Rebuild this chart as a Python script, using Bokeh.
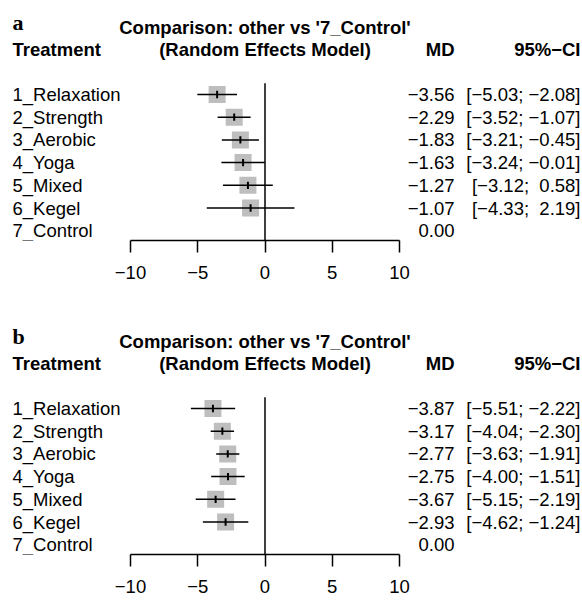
from bokeh.plotting import figure
from bokeh.layouts import column
from bokeh.models import Range1d, FixedTicker, ColumnDataSource
from bokeh.embed import file_html
from bokeh.resources import INLINE
from bokeh.core.properties import value

# ---- data ----
treatments = ["1_Relaxation", "2_Strength", "3_Aerobic", "4_Yoga",
              "5_Mixed", "6_Kegel", "7_Control"]
md_a = [-3.56, -2.29, -1.83, -1.63, -1.27, -1.07, 0.00]
lo_a = [-5.03, -3.52, -3.21, -3.24, -3.12, -4.33]
hi_a = [-2.08, -1.07, -0.45, -0.01, 0.58, 2.19]
md_b = [-3.87, -3.17, -2.77, -2.75, -3.67, -2.93, 0.00]
lo_b = [-5.51, -4.04, -3.63, -4.00, -5.15, -4.62]
hi_b = [-2.22, -2.30, -1.91, -1.51, -2.19, -1.24]
ticks = [-10, -5, 0, 5, 10]
reference = "7_Control"

# ---- layout constants ----
W = 582
H_TOTAL = 603
H_A = 314
PX_PER_UNIT = 13.45
X_START = -10 - 130 / PX_PER_UNIT
X_END = X_START + W / PX_PER_UNIT
ROW_PX = 22.7
Y_TOP = 1 - 94 / ROW_PX
Y_AXIS = 1 + (240 - 94) / ROW_PX
FRAME_H = 240


def xpos(px):
    return X_START + px / PX_PER_UNIT


def ypos(px):
    return 1 + (px - 94) / ROW_PX


LEFT_X = xpos(12)
MD_X = xpos(454)
CI_X = xpos(580)

SANS = value("Liberation Sans")
FS = "18.5px"


def fmt(v):
    return f"{v:.2f}".replace("-", "\u2212")


def fmt_ci(lo, hi):
    up = fmt(hi)
    if hi >= 0:
        up = "\u00a0" + up
    return f"[{fmt(lo)};\u00a0{up}]"


def make_panel(letter, md, lo, hi, height, bottom):
    p = figure(width=W, height=height, output_backend="svg", toolbar_location=None,
               x_range=Range1d(X_START, X_END), y_range=Range1d(Y_AXIS, Y_TOP),
               min_border_left=0, min_border_right=0, min_border_top=0,
               min_border_bottom=bottom, y_axis_location=None)
    p.outline_line_color = None
    p.grid.visible = False
    p.background_fill_color = "white"
    p.border_fill_color = "white"

    n = len(lo)
    rows = list(range(1, len(md) + 1))
    rows_ci = rows[:n]

    # zero reference line
    p.segment(x0=[0], y0=[0.5], x1=[0], y1=[Y_AXIS], line_color="black", line_width=1.5)

    src = ColumnDataSource(dict(y=rows_ci, md=md[:n], lo=lo, hi=hi,
                                ty0=[r - 0.16 for r in rows_ci],
                                ty1=[r + 0.16 for r in rows_ci]))
    p.scatter(x="md", y="y", source=src, marker="square", size=17,
              fill_color="#bebebe", line_color=None)
    p.segment(x0="lo", y0="y", x1="hi", y1="y", source=src,
              line_color="black", line_width=1.5)
    p.segment(x0="md", y0="ty0", x1="md", y1="ty1", source=src,
              line_color="black", line_width=2)

    # left labels
    p.text(x=[LEFT_X] * len(treatments), y=rows, text=treatments,
           text_font=SANS, text_font_size=FS, text_baseline="middle",
           text_align="left", text_color="black")
    # MD column
    p.text(x=[MD_X] * len(md), y=rows, text=[fmt(v) for v in md],
           text_font=SANS, text_font_size=FS, text_baseline="middle",
           text_align="right", text_color="black")
    # CI column
    p.text(x=[CI_X] * n, y=rows_ci, text=[fmt_ci(a, b) for a, b in zip(lo, hi)],
           text_font=SANS, text_font_size=FS, text_baseline="middle",
           text_align="right", text_color="black")

    # headers
    h1, h2 = ypos(27), ypos(49)
    p.text(x=[0, 0], y=[h1, h2],
           text=[f"Comparison: other vs '{reference}'", "(Random Effects Model)"],
           text_font=SANS, text_font_size=FS, text_font_style="bold",
           text_baseline="middle", text_align="center", text_color="black")
    p.text(x=[LEFT_X], y=[h2], text=["Treatment"], text_font=SANS,
           text_font_size=FS, text_font_style="bold", text_baseline="middle",
           text_align="left", text_color="black")
    p.text(x=[MD_X, CI_X], y=[h2, h2], text=["MD", "95%\u2212CI"],
           text_font=SANS, text_font_size=FS, text_font_style="bold",
           text_baseline="middle", text_align="right", text_color="black")
    p.text(x=[LEFT_X], y=[ypos(21.5)], text=[letter], text_font=value("Liberation Serif"),
           text_font_size="22px", text_font_style="bold", text_baseline="alphabetic",
           text_align="left", text_color="black")

    ax = p.xaxis[0]
    ax.ticker = FixedTicker(ticks=ticks)
    ax.bounds = (min(ticks), max(ticks))
    ax.major_label_overrides = {t: str(t).replace("-", "\u2212") for t in ticks}
    ax.minor_tick_line_color = None
    ax.major_tick_in = 0
    ax.major_tick_out = 12
    ax.major_label_standoff = 13
    ax.axis_line_width = 1.5
    ax.major_tick_line_width = 1.5
    ax.axis_line_color = "black"
    ax.major_tick_line_color = "black"
    ax.major_label_text_font = "Liberation Sans"
    ax.major_label_text_font_size = FS
    ax.major_label_text_color = "black"
    return p


pa = make_panel("a", md_a, lo_a, hi_a, H_A, H_A - FRAME_H)
pb = make_panel("b", md_b, lo_b, hi_b, H_TOTAL - H_A, H_TOTAL - H_A - FRAME_H)

layout = column(pa, pb, spacing=0)
open("out.html", "w").write(file_html(layout, INLINE))
